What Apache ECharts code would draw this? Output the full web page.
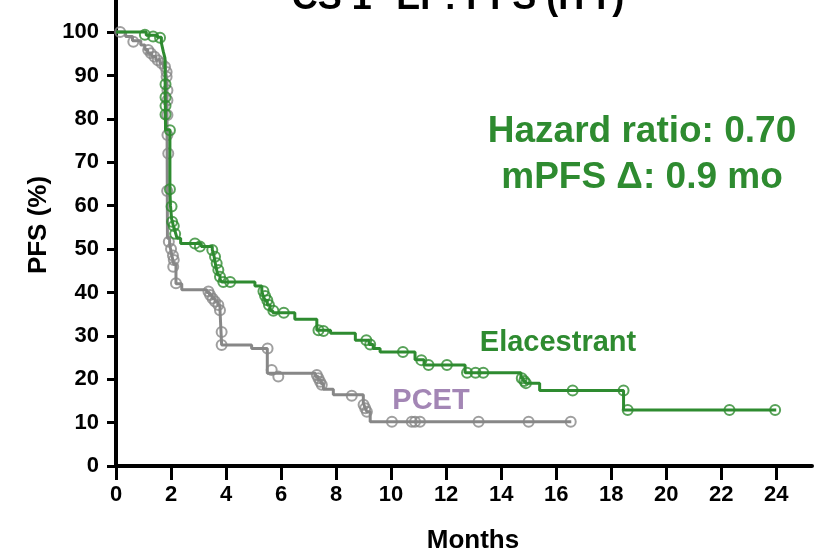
<!DOCTYPE html>
<html>
<head>
<meta charset="utf-8">
<script src="https://cdn.jsdelivr.net/npm/echarts@6/dist/echarts.min.js"></script>
<style>
html,body{margin:0;padding:0;background:#fff;}
#chart{width:820px;height:554px;}
</style>
</head>
<body>
<div id="chart"></div>
<script>
// ---- Data ----
const xTicks = [0,2,4,6,8,10,12,14,16,18,20,22,24];
const yTicks = [0,10,20,30,40,50,60,70,80,90,100];

// Elacestrant KM steps: [month, PFS% after event]
const elaSteps = [[0,100],[1.1,99.3],[1.5,98.8],[1.65,97.5],[1.72,95.5],[1.78,94],[1.8,77.5],[1.96,63.5],[1.98,60],[2.02,57],[2.08,55.5],[2.15,54],[2.22,52.5],[2.35,51.3],[3.1,50.6],[3.5,49.8],[3.56,48.5],[3.6,47],[3.65,45.5],[3.7,44],[3.78,43],[3.85,42.4],[5.05,41.5],[5.3,40.3],[5.35,39.2],[5.42,38.2],[5.5,37.1],[5.6,35.8],[5.7,35.3],[6.5,33.8],[7.3,31.3],[7.8,30.6],[8.7,29.0],[9.2,28.0],[9.35,27.1],[9.6,26.3],[10.87,24.5],[11.2,23.3],[12.69,21.5],[14.72,20.3],[14.8,19.6],[14.88,19.1],[15.4,17.4],[18.45,12.9],[24,12.9]];
const elaCensor = [[1.05,99.4],[1.35,99],[1.6,98.7],[1.8,88],[1.8,85],[1.8,83],[1.8,81],[1.96,77.4],[1.96,63.8],[2.02,59.8],[2.04,56.3],[2.1,55.3],[2.15,53.5],[2.87,51.3],[3.05,50.6],[3.5,49.8],[3.6,48.2],[3.66,46.7],[3.72,45.2],[3.78,43.6],[3.9,42.4],[4.15,42.4],[5.36,40.3],[5.42,39.2],[5.5,38.2],[5.56,37.1],[5.72,35.8],[6.1,35.3],[7.36,31.3],[7.54,31.1],[9.1,29.0],[9.24,28.0],[10.43,26.3],[11.1,24.4],[11.36,23.3],[12.03,23.3],[12.76,21.5],[13.07,21.5],[13.35,21.5],[14.75,20.2],[14.84,19.6],[14.9,19.1],[16.6,17.4],[18.45,17.4],[18.6,12.9],[22.3,12.9],[23.96,12.9]];

// PCET KM steps
const pcetSteps = [[0,100],[0.35,99],[0.6,98],[0.9,97],[1.05,96],[1.15,95.2],[1.3,94.4],[1.45,93.6],[1.6,92.8],[1.72,92],[1.8,91],[1.85,89],[1.87,52.5],[1.95,51],[2.0,49.5],[2.05,48],[2.1,46.5],[2.18,42],[2.39,40.6],[3.3,40],[3.4,39.4],[3.5,38.6],[3.6,37.9],[3.7,37.1],[3.78,35.9],[3.84,27.9],[4.93,27.1],[5.5,21.4],[7.25,20.6],[7.35,19.8],[7.45,19.0],[7.54,17.7],[7.9,16.4],[8.99,14.5],[9.05,13.5],[9.12,12.5],[9.24,10.2],[16.55,10.2]];
const pcetCensor = [[0.15,100],[0.63,97.8],[1.17,95.9],[1.27,95.1],[1.4,94.3],[1.52,93.5],[1.66,92.8],[1.78,92],[1.84,90.8],[1.84,89.7],[1.87,86.6],[1.87,84.3],[1.87,80.9],[1.87,76.3],[1.9,72],[1.86,63.4],[1.92,51.7],[2.0,50],[2.07,48.5],[2.1,47.5],[2.08,45.9],[2.18,42.1],[3.36,40.2],[3.42,39.4],[3.51,38.6],[3.6,37.9],[3.72,37.1],[3.78,35.9],[3.84,30.9],[3.84,27.9],[5.51,27.1],[5.66,22.1],[5.9,20.6],[7.3,21],[7.36,20.2],[7.42,19.4],[7.48,18.7],[8.57,16.2],[9.0,14.1],[9.06,13.3],[9.12,12.5],[10.03,10.2],[10.75,10.2],[10.87,10.2],[11.05,10.2],[13.18,10.2],[15.0,10.2],[16.53,10.2]];

const GREEN = '#2e8b30';
const GREY = '#878787';
const PURPLE = '#a386b5';
const FONT = '"Liberation Sans", Arial, sans-serif';

const chart = echarts.init(document.getElementById('chart'), null, {renderer:'canvas'});
chart.setOption({
  animation: false,
  backgroundColor: '#fff',
  grid: {left:116, right:8, top:0, bottom:88, containLabel:false, outerBoundsMode:'none'},
  xAxis: {
    type:'value', min:0, max:25.3,
    axisLine:{show:true, onZero:false, lineStyle:{color:'#000', width:4}},
    axisTick:{show:true, length:14, lineStyle:{color:'#000', width:3}, customValues:xTicks},
    axisLabel:{customValues:xTicks, color:'#000', fontFamily:FONT, fontWeight:'bold', fontSize:22, margin:18},
    splitLine:{show:false},
    name:'Months', nameLocation:'middle', nameGap:62,
    nameTextStyle:{color:'#000', fontFamily:FONT, fontWeight:'bold', fontSize:26, padding:[0,0,0,18]}
  },
  yAxis: {
    type:'value', min:0, max:107.4,
    axisLine:{show:true, onZero:false, lineStyle:{color:'#000', width:4}},
    axisTick:{show:true, length:9, lineStyle:{color:'#000', width:3}, customValues:yTicks},
    axisLabel:{customValues:yTicks, color:'#000', fontFamily:FONT, fontWeight:'bold', fontSize:22, margin:17},
    splitLine:{show:false},
    name:'PFS (%)', nameLocation:'middle', nameGap:63, nameRotate:90,
    nameTextStyle:{color:'#000', fontFamily:FONT, fontWeight:'bold', fontSize:26, padding:[0,0,0,16]}
  },
  series: [
    {type:'line', step:'end', data:pcetSteps, showSymbol:false, lineStyle:{color:GREY, width:3}, z:2},
    {type:'scatter', data:pcetCensor, symbol:'circle', symbolSize:10, itemStyle:{color:'rgba(0,0,0,0)', borderColor:GREY, borderWidth:2}, z:3},
    {type:'line', step:'end', data:elaSteps, showSymbol:false, lineStyle:{color:GREEN, width:3}, z:4},
    {type:'scatter', data:elaCensor, symbol:'circle', symbolSize:10, itemStyle:{color:'rgba(0,0,0,0)', borderColor:GREEN, borderWidth:2}, z:5}
  ],
  graphic: [
    {type:'text', style:{text:'CS 1° EP: PFS (ITT)', x:458, y:17, align:'center', verticalAlign:'bottom', fill:'#000', font:'bold 36px '+FONT}},
    {type:'text', style:{text:'Hazard ratio: 0.70', x:642, y:132, align:'center', verticalAlign:'middle', fill:GREEN, font:'bold 37px '+FONT}},
    {type:'text', style:{text:'mPFS Δ: 0.9 mo', x:642, y:178, align:'center', verticalAlign:'middle', fill:GREEN, font:'bold 37px '+FONT}},
    {type:'text', style:{text:'Elacestrant', x:558, y:343, align:'center', verticalAlign:'middle', fill:GREEN, font:'bold 29px '+FONT}},
    {type:'text', style:{text:'PCET', x:431, y:401, align:'center', verticalAlign:'middle', fill:PURPLE, font:'bold 29px '+FONT}}
  ]
});
</script>
</body>
</html>
